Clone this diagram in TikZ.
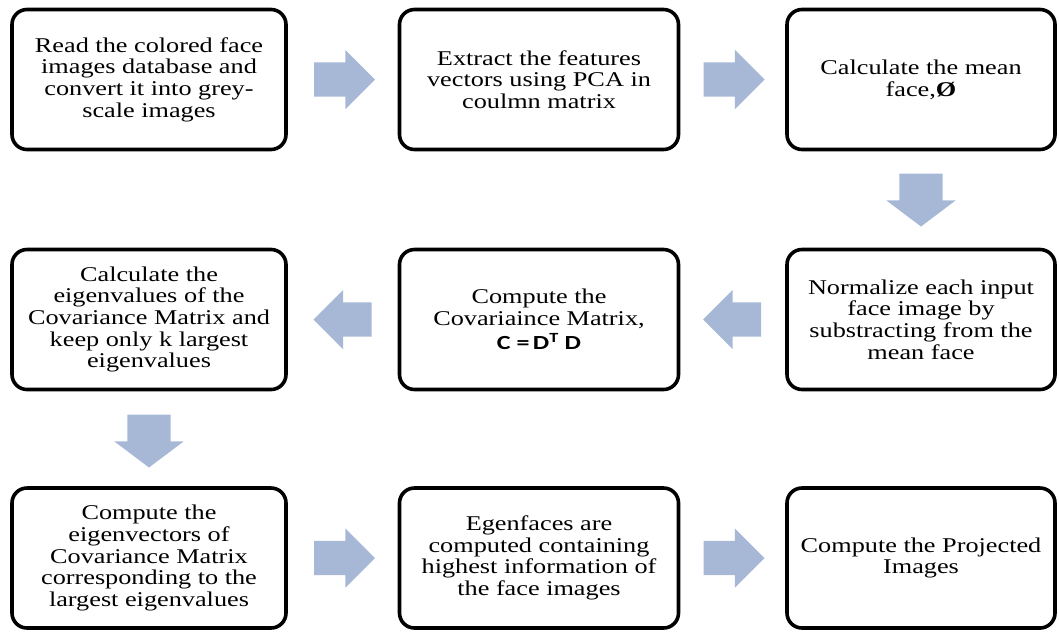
\documentclass[tikz,border=0pt]{standalone}
\usepackage{fontspec}
\setmainfont{Liberation Serif}[FakeStretch=1.25]
\newfontfamily\formulafont{Carlito}[FakeStretch=1.3]
\usetikzlibrary{shapes.arrows,calc}
\definecolor{arrowblue}{RGB}{166,184,214}

\begin{document}
\begin{tikzpicture}[x=1pt, y=-1pt, stage/.style = {shape=rectangle, draw, line width=3.6pt, rounded corners=15pt, align=center, minimum height=140pt, font=\fontsize{21}{21.7}\selectfont}, flow/.style = {single arrow, anchor=tail, fill=arrowblue, inner xsep=0pt, inner ysep=17pt, minimum height=61pt, single arrow head extend=12.5pt}, back/.style = {flow, rotate=180, minimum height=58pt}, drop/.style = {flow, rotate=-90, inner ysep=21.5pt, minimum height=53pt, single arrow head extend=13pt, single arrow tip angle=106}]
				\useasboundingbox (0,0) rectangle (1059,633);
				% first row
				\node[stage, minimum width=274pt] (read) at (149,79.5) {Read the colored face\\images database and\\convert it into grey-\\scale images};
				\node[stage, minimum width=279pt] (extract) at (539,79.5) {Extract the features\\vectors using PCA in\\coulmn matrix};
				\node[stage, minimum width=268pt] (mean) at (921,79.5) {Calculate the mean\\face,\textbf{Ø}};
				% second row
				\node[stage, minimum width=268pt] (normalize) at (921,319.5) {Normalize each input\\face image by\\substracting from the\\mean face};
				\node[stage, minimum width=279pt] (covar) at (539,319.5) {Compute the\\Covariaince Matrix,\\[3pt]{\formulafont\fontsize{20}{22}\selectfont\bfseries C =\,D\textsuperscript{T} D}};
				\node[stage, minimum width=274pt] (eigval) at (149,319.5) {Calculate the\\eigenvalues of the\\Covariance Matrix and\\keep only k largest\\eigenvalues};
				% third row
				\node[stage, minimum width=274pt] (eigvec) at (149,558) {Compute the\\eigenvectors of\\Covariance Matrix\\corresponding to the\\largest eigenvalues};
				\node[stage, minimum width=279pt] (eigface) at (539,558) {Egenfaces are\\computed containing\\highest information of\\the face images};
				\node[stage, minimum width=268pt] (project) at (921,558) {Compute the Projected\\Images};
				% block arrows, tail placed after each box
				\node[flow] (step1) at ([xshift=26pt]read.east) {};
				\node[flow] (step2) at ([xshift=23pt]extract.east) {};
				\node[drop] (step3) at ([yshift=-22pt]mean.south) {};
				\node[back] (step4) at ([xshift=-24pt]normalize.west) {};
				\node[back] (step5) at ([xshift=-26pt]covar.west) {};
				\node[drop] (step6) at ([yshift=-23pt]eigval.south) {};
				\node[flow] (step7) at ([xshift=26pt]eigvec.east) {};
				\node[flow] (step8) at ([xshift=23pt]eigface.east) {};
			\end{tikzpicture}
\end{document}
